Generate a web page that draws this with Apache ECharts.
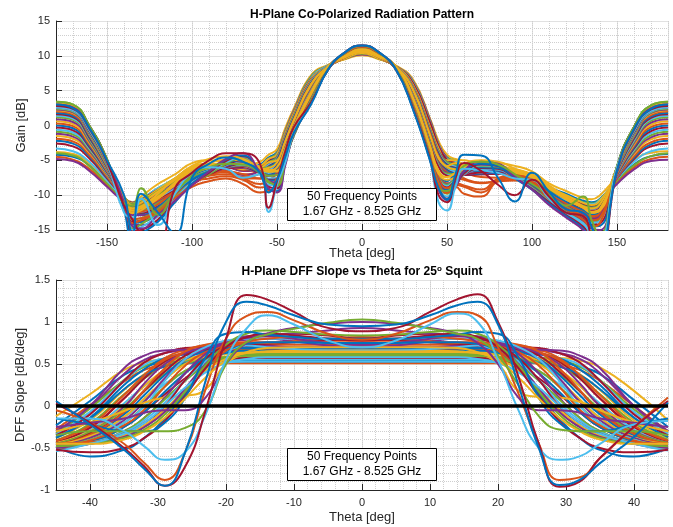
<!DOCTYPE html>
<html><head><meta charset="utf-8">
<script src="https://cdn.jsdelivr.net/npm/echarts@6.0.0/dist/echarts.min.js"></script>
<style>html,body{margin:0;padding:0;background:#fff;}#chart{width:673px;height:527px;}</style>
</head><body><div id="chart"></div>
<script>
// ---------- Top panel: H-plane gain [dB] vs theta [deg] ----------
const thetaGain = [-180,-170,-160,-150,-140, -135,-130,-120,-110,-100, -90,-80,-70,-60,-55, -50,-45,-40,-30,-20,-10,0, 10,20,30,40,45,50, 55,60,70,80,90, 100,110,120,130,135, 140,150,160,170,180];

const g00 = [-4.2,-4.5,-5.8,-8.2,-10.6, -11.2,-10.8,-9.2,-8.0,-6.4, -5.8,-5.6,-6.2,-5.6,-4.6, -3.8,-0.6,2.2,7.0,8.6,9.6,10.2, 9.6,8.5,6.4,0.8,-2.5,-4.5, -5.2,-5.6,-6.0,-6.2,-6.5, -7.2,-8.8,-9.8,-10.8,-11.0, -10.5,-7.8,-5.6,-4.4,-4.1];
const g01 = [-4.5,-4.9,-6.3,-8.6,-10.8, -11.4,-10.9,-9.6,-8.3,-6.8, -6.2,-6.4,-7.0,-6.4,-5.0, -4.0,-0.8,2.1,7.0,8.6,9.6,10.2, 9.6,8.5,6.3,0.7,-2.7,-4.8, -5.6,-6.0,-6.5,-6.6,-6.8, -7.6,-9.2,-10.2,-11.2,-11.4, -10.8,-8.1,-6.0,-4.8,-4.5];
const g02 = [-3.8,-4.1,-5.5,-8.0,-10.4, -11.0,-10.2,-8.4,-7.0,-5.4, -5.0,-5.3,-5.8,-5.2,-4.2, -3.4,-0.3,2.5,7.2,8.7,9.5,10.1, 9.5,8.6,6.6,1.0,-2.2,-4.2, -4.8,-5.0,-5.3,-5.4,-5.8, -6.6,-8.3,-9.4,-10.4,-10.6, -10.0,-7.4,-5.0,-3.9,-3.7];
const g03 = [-4.8,-5.1,-6.6,-8.8,-10.9, -11.4,-11.0,-9.8,-8.6,-7.1, -6.5,-6.6,-7.1,-6.5,-5.3, -4.0,-0.7,2.2,7.0,8.6,9.6,10.2, 9.6,8.5,6.4,0.8,-2.6,-4.7, -5.6,-6.3,-6.8,-6.9,-7.1, -7.8,-9.4,-10.4,-11.4,-11.6, -11.0,-8.4,-6.3,-5.1,-4.9];
const g04 = [-4.0,-4.3,-5.9,-8.3,-10.6, -11.2,-10.6,-9.0,-7.6,-6.0, -5.6,-5.8,-6.4,-5.9,-4.8, -4.0,-0.8,2.1,7.0,8.6,9.6,10.3, 9.6,8.5,6.3,0.6,-2.7,-4.7, -5.0,-5.7,-6.1,-6.2,-6.5, -7.2,-8.9,-10.0,-11.0,-11.2, -10.6,-7.9,-5.7,-4.4,-4.0];
const g05 = [-3.3,-3.7,-5.3,-7.9,-10.4, -11.1,-10.6,-9.0,-7.8,-6.2, -5.7,-5.8,-6.3,-5.8,-4.9, -4.2,-1.0,2.0,6.8,8.6,9.7,10.4, 9.7,8.5,6.2,0.5,-2.8,-4.8, -5.2,-5.8,-6.2,-6.3,-6.6, -7.4,-9.0,-10.1,-11.1,-11.3, -10.7,-7.7,-5.2,-3.7,-3.3];
const g06 = [-2.6,-3.0,-4.8,-7.6,-10.3, -11.1,-10.7,-9.2,-8.0,-6.5, -5.9,-5.9,-6.5,-6.0,-5.1, -4.3,-1.1,1.9,6.7,8.5,9.7,10.4, 9.7,8.5,6.1,0.4,-2.9,-4.9, -5.4,-6.0,-6.4,-6.5,-6.8, -7.6,-9.2,-10.3,-11.3,-11.5, -10.9,-7.6,-4.8,-3.0,-2.6];
const g07 = [-2.2,-2.6,-4.5,-7.4,-10.3, -11.2,-10.9,-9.5,-8.2,-6.7, -6.0,-5.9,-6.4,-6.1,-5.3, -4.4,-1.4,1.5,6.4,8.5,9.7,10.5, 9.7,8.4,5.6,-0.5,-3.6,-5.2, -5.6,-6.2,-6.6,-6.6,-6.9, -7.8,-9.4,-10.5,-11.5,-11.8, -11.2,-7.6,-4.6,-2.7,-2.2];
const g08 = [-1.9,-2.3,-4.3,-7.3,-10.4, -11.3,-11.0,-9.6,-8.4,-7.0, -6.4,-6.6,-7.4,-6.9,-5.8, -4.6,-1.5,1.4,6.3,8.5,9.7,10.5, 9.7,8.4,5.5,-0.6,-3.8,-5.4, -5.9,-6.7,-7.4,-7.5,-7.5, -8.0,-9.6,-10.7,-11.7,-12.0, -11.4,-7.6,-4.4,-2.4,-1.9];
const g09 = [-1.5,-1.9,-4.0,-7.1,-10.2, -11.2,-10.8,-9.2,-7.6,-6.0, -5.5,-5.7,-6.3,-5.8,-4.8, -4.2,-1.1,1.8,6.6,8.5,9.6,10.4, 9.6,8.5,5.8,-0.2,-3.3,-5.0, -5.0,-5.7,-6.0,-6.1,-6.4, -7.1,-8.8,-10.0,-11.1,-11.4, -10.8,-7.3,-4.1,-2.0,-1.5];
const g10 = [-1.2,-1.6,-3.8,-7.0,-10.3, -11.3,-11.0,-9.6,-8.2,-6.8, -6.2,-6.0,-6.5,-6.3,-5.5, -4.5,-1.4,1.5,6.4,8.5,9.8,10.6, 9.8,8.4,5.6,-0.5,-3.6,-5.3, -5.8,-6.4,-6.9,-6.8,-7.1, -7.9,-9.5,-10.6,-11.6,-11.9, -11.3,-7.4,-3.9,-1.7,-1.2];
const g11 = [-0.9,-1.3,-3.6,-6.9,-10.2, -11.3,-11.0,-9.4,-8.0,-6.6, -5.8,-5.6,-6.1,-6.0,-5.3, -4.6,-1.5,1.4,6.3,8.5,9.8,10.6, 9.8,8.4,5.5,-0.6,-3.7,-5.3, -5.6,-6.1,-6.4,-6.3,-6.6, -7.5,-9.2,-10.4,-11.5,-11.8, -11.2,-7.2,-3.7,-1.4,-0.9];
const g12 = [-0.6,-1.0,-3.4,-6.8,-10.3, -11.5,-11.2,-9.8,-8.5,-7.0, -6.2,-5.9,-6.4,-6.4,-5.7, -4.8,-1.7,1.2,6.2,8.5,9.8,10.7, 9.8,8.4,5.4,-0.8,-3.9,-5.5, -5.9,-6.4,-6.8,-6.7,-7.0, -7.9,-9.6,-10.8,-11.9,-12.2, -11.6,-7.2,-3.5,-1.1,-0.6];
const g13 = [-0.3,-0.7,-3.2,-6.7,-10.3, -11.5,-11.3,-9.9,-8.6,-7.2, -6.4,-6.0,-6.4,-6.5,-5.9, -4.9,-1.8,1.1,6.1,8.4,9.8,10.7, 9.8,8.4,5.3,-0.9,-4.0,-5.6, -6.1,-6.6,-7.0,-6.9,-7.2, -8.1,-9.8,-11.0,-12.0,-12.3, -11.7,-7.1,-3.3,-0.8,-0.3];
const g14 = [0.0,-0.4,-3.0,-6.6,-10.4, -11.7,-11.5,-10.1,-8.7,-7.2, -6.3,-5.8,-6.2,-6.4,-6.0, -5.0,-2.0,1.0,6.0,8.4,9.9,10.8, 9.9,8.3,5.2,-1.0,-4.2,-5.7, -6.2,-6.6,-6.9,-6.8,-7.1, -8.0,-9.8,-11.1,-12.2,-12.5, -11.9,-7.0,-3.1,-0.5,0.0];
const g15 = [0.3,-0.1,-2.8,-6.5,-10.3, -11.6,-11.4,-10.2,-9.0,-7.6, -6.9,-6.7,-7.6,-7.6,-6.8, -5.3,-2.2,0.9,5.9,8.4,9.8,10.7, 9.8,8.3,5.1,-1.1,-4.4,-6.0, -6.8,-7.6,-8.2,-8.0,-7.8, -8.3,-10.0,-11.2,-12.2,-12.6, -12.0,-7.0,-2.9,-0.2,0.3];
const g16 = [0.6,0.2,-2.6,-6.4,-10.2, -11.5,-11.1,-9.5,-7.8,-6.2, -5.6,-5.7,-6.3,-6.1,-5.3, -5.0,-2.2,0.8,5.9,8.4,9.8,10.5, 9.8,8.4,5.2,-1.4,-4.6,-5.8, -5.4,-5.8,-6.0,-6.0,-6.3, -7.2,-9.0,-10.4,-11.6,-11.9, -11.3,-6.8,-2.7,0.1,0.6];
const g17 = [0.9,0.5,-2.4,-6.3,-10.4, -11.8,-11.6,-10.3,-8.9,-7.4, -6.5,-6.0,-6.1,-6.5,-6.2, -5.5,-2.6,0.4,5.6,8.4,10.0,10.8, 10.0,8.3,4.8,-1.8,-5.0,-6.2, -6.4,-6.7,-6.8,-6.7,-7.0, -8.0,-9.9,-11.3,-12.4,-12.7, -12.1,-6.8,-2.5,0.4,0.9];
const g18 = [1.2,0.8,-2.2,-6.2,-10.3, -11.8,-11.5,-10.0,-8.5,-7.0, -6.0,-5.6,-5.8,-6.2,-6.0, -5.4,-2.5,0.5,5.7,8.4,10.0,10.8, 10.0,8.3,4.9,-1.7,-4.9,-6.1, -6.3,-6.5,-6.5,-6.4,-6.8, -7.8,-9.7,-11.1,-12.3,-12.6, -12.0,-6.7,-2.3,0.7,1.2];
const g19 = [1.4,1.0,-2.0,-6.1,-10.4, -12.0,-11.8,-10.5,-9.1,-7.5, -6.5,-5.9,-6.0,-6.6,-6.4, -5.6,-2.7,0.3,5.5,8.4,10.0,10.9, 10.0,8.3,4.7,-1.9,-5.1,-6.3, -6.6,-6.8,-6.8,-6.7,-7.1, -8.1,-10.1,-11.5,-12.6,-12.9, -12.3,-6.7,-2.1,0.9,1.4];
const g20 = [1.6,1.2,-1.9,-6.0,-10.5, -12.1,-11.9,-10.7,-9.3,-7.8, -6.8,-6.1,-6.0,-6.7,-6.6, -5.7,-2.8,0.2,5.4,8.3,10.1,10.9, 10.1,8.2,4.6,-2.0,-5.2,-6.4, -6.9,-7.1,-7.0,-6.9,-7.3, -8.3,-10.3,-11.7,-12.8,-13.1, -12.5,-6.6,-1.9,1.1,1.6];
const g21 = [1.8,1.4,-1.7,-5.9,-10.5, -12.2,-12.1,-10.9,-9.5,-7.9, -6.8,-6.0,-5.8,-6.6,-6.6, -5.8,-2.9,0.1,5.3,8.3,10.1,11.0, 10.1,8.2,4.5,-2.1,-5.3,-6.5, -6.9,-7.0,-6.9,-6.8,-7.3, -8.4,-10.4,-11.9,-13.0,-13.3, -12.7,-6.5,-1.7,1.3,1.8];
const g22 = [2.0,1.6,-1.5,-5.8,-10.4, -12.0,-11.9,-10.8,-9.5,-8.0, -7.1,-6.6,-7.0,-7.6,-7.2, -6.0,-3.0,0.0,5.2,8.3,10.0,10.9, 10.0,8.2,4.5,-2.2,-5.4,-6.7, -7.3,-7.8,-8.3,-8.0,-7.9, -8.6,-10.5,-11.9,-13.0,-13.3, -12.7,-6.4,-1.5,1.5,2.0];
const g23 = [2.2,1.8,-1.4,-5.7,-10.3, -11.9,-11.6,-10.2,-8.6,-7.0, -6.1,-5.6,-5.8,-6.3,-6.1, -5.3,-2.3,0.7,5.8,8.4,9.9,10.7, 9.9,8.4,5.0,-1.5,-4.7,-5.9, -6.3,-6.4,-6.4,-6.3,-6.7, -7.7,-9.7,-11.2,-12.4,-12.7, -12.1,-6.3,-1.4,1.7,2.2];
const g24 = [2.3,1.9,-1.3,-5.6,-10.5, -12.3,-12.2,-11.0,-9.6,-8.0, -6.9,-6.1,-5.8,-6.6,-6.7, -6.0,-3.1,-0.1,5.1,8.3,10.1,11.0, 10.1,8.2,4.4,-2.3,-5.5,-6.8, -7.0,-7.0,-6.8,-6.7,-7.3, -8.5,-10.6,-12.1,-13.2,-13.5, -12.9,-6.3,-1.3,1.8,2.3];
const g25 = [2.4,2.0,-1.2,-5.6,-10.6, -12.4,-12.3,-11.1,-9.7,-8.0, -6.9,-6.0,-5.7,-6.5,-6.7, -6.1,-3.2,-0.2,5.0,8.3,10.1,11.0, 10.1,8.1,4.3,-2.4,-5.6,-6.9, -7.0,-6.9,-6.7,-6.6,-7.2, -8.5,-10.7,-12.2,-13.3,-13.6, -13.0,-6.2,-1.2,1.9,2.4];
const g26 = [2.5,2.1,-1.1,-5.5,-10.7, -12.6,-12.5,-11.4,-10.0,-8.3, -7.0,-6.0,-5.6,-6.6,-6.9, -6.3,-3.4,-0.3,4.9,8.2,10.2,11.1, 10.2,8.1,4.2,-2.6,-5.8,-7.1, -7.2,-7.0,-6.7,-6.6,-7.3, -8.7,-10.9,-12.4,-13.5,-13.8, -13.2,-6.2,-1.1,2.0,2.5];
const g27 = [2.6,2.2,-1.0,-5.4,-10.8, -12.8,-12.7,-11.6,-10.2,-8.5, -7.1,-6.0,-5.5,-6.7,-7.1, -6.4,-3.5,-0.4,4.8,8.2,10.2,11.1, 10.2,8.1,4.1,-2.7,-5.9,-7.2, -7.4,-7.1,-6.7,-6.6,-7.4, -8.9,-11.1,-12.6,-13.7,-14.0, -13.4,-6.1,-1.0,2.1,2.6];
const g28 = [2.7,2.3,-0.9,-5.4,-10.8, -12.8,-12.8,-11.7,-9.5,-7.6, -6.6,-5.8,-5.4,-6.7,-7.1, -6.5,-3.8,-0.6,4.5,8.4,10.2,11.1, 10.2,8.3,3.7,-3.3,-7.0,-8.0, -7.0,-6.5,-6.5,-6.5,-7.3, -8.0,-9.5,-11.0,-12.2,-12.8, -12.5,-6.1,-0.9,2.2,2.7];
const g29 = [2.8,2.4,-0.8,-5.3,-10.6, -12.5,-12.4,-11.3,-9.4,-7.9, -7.2,-7.0,-7.6,-8.4,-7.9, -6.8,-4.0,-0.7,4.4,8.4,10.2,11.1, 10.2,8.3,3.6,-3.4,-7.1,-8.3, -8.3,-8.6,-9.2,-7.6,-7.0, -7.8,-9.8,-11.2,-12.4,-13.0, -12.6,-6.1,-0.8,2.3,2.8];
const g30 = [2.9,2.5,-0.7,-5.3,-10.4, -12.2,-11.9,-10.5,-8.4,-6.6, -5.8,-5.3,-5.4,-6.3,-6.4, -6.0,-3.3,-0.2,4.8,8.5,10.0,10.9, 10.0,8.4,4.0,-2.9,-6.5,-7.4, -6.8,-6.4,-6.1,-6.1,-6.8, -7.4,-9.0,-10.6,-11.8,-12.4, -12.0,-6.0,-0.7,2.4,2.9];
const g31 = [3.0,2.6,-0.6,-5.2,-10.7, -12.8,-12.9,-11.9,-9.8,-7.7, -6.8,-5.8,-5.2,-6.6,-7.2, -7.0,-4.0,-0.8,4.3,8.3,10.2,11.2, 10.2,8.3,3.6,-3.5,-7.2,-8.4, -7.6,-7.0,-6.3,-6.4,-7.4, -8.3,-10.0,-11.5,-12.8,-13.4, -13.0,-6.0,-0.6,2.5,3.0];
const g32 = [3.1,2.7,-0.5,-5.2,-11.0, -13.5,-13.3,-12.0,-9.7,-7.5, -6.6,-5.6,-5.1,-6.5,-7.2, -7.1,-4.1,-0.9,4.2,8.3,10.2,11.2, 10.2,8.3,3.5,-3.6,-7.3,-8.5, -7.6,-6.9,-6.2,-6.3,-7.4, -8.4,-10.1,-11.6,-13.0,-13.7, -13.4,-6.0,-0.5,2.6,3.1];
const g33 = [3.1,2.7,-0.5,-5.1,-11.2, -13.8,-13.6,-12.3,-10.0,-7.8, -6.8,-5.7,-5.1,-6.8,-7.6, -7.5,-4.3,-1.0,4.1,8.3,10.3,11.3, 10.3,8.3,3.4,-3.7,-7.5,-8.7, -7.8,-7.0,-6.2,-6.3,-7.5, -8.6,-10.3,-11.8,-13.2,-14.0, -13.7,-6.0,-0.5,2.6,3.1];
const g34 = [3.2,2.8,-0.4,-5.1,-11.2, -13.8,-13.7,-12.4,-10.1,-7.9, -6.8,-5.6,-5.0,-6.9,-7.8, -7.7,-4.4,-1.1,4.0,8.2,10.3,11.3, 10.3,8.2,3.3,-3.8,-7.6,-8.9, -7.9,-7.0,-6.1,-6.2,-7.5, -8.7,-10.4,-12.0,-13.4,-14.3, -14.1,-6.0,-0.4,2.7,3.2];
const g35 = [3.2,2.8,-0.4,-5.0,-11.3, -14.0,-13.9,-12.5,-10.1,-7.8, -6.6,-5.4,-4.9,-6.9,-7.9, -7.9,-4.5,-1.2,3.9,8.2,10.3,11.4, 10.3,8.2,3.2,-3.9,-7.8,-9.2, -8.0,-6.9,-6.0,-6.1,-7.4, -8.6,-10.3,-12.0,-13.5,-14.5, -14.4,-6.0,-0.4,2.7,3.2];
const g36 = [3.3,2.9,-0.3,-5.0,-11.0, -13.4,-13.3,-12.2,-10.1,-8.2, -7.6,-7.3,-7.8,-8.9,-8.7, -7.6,-4.4,-1.0,4.1,8.3,10.3,11.3, 10.3,8.3,3.4,-3.7,-7.5,-9.0, -8.5,-8.8,-9.6,-7.8,-7.2, -8.0,-10.2,-11.8,-13.0,-13.6, -13.2,-6.0,-0.3,2.8,3.3];
const g37 = [3.3,2.9,-0.3,-5.0,-10.6, -12.6,-12.2,-10.4,-8.2,-6.3, -5.4,-4.9,-5.0,-6.2,-6.6, -6.5,-3.6,-0.4,4.6,8.4,10.0,10.9, 10.0,8.4,3.9,-3.1,-6.8,-7.8, -7.4,-6.1,-5.6,-5.7,-6.5, -7.2,-8.8,-10.4,-11.8,-12.5, -12.2,-6.0,-0.3,2.8,3.3];
const g38 = [3.3,2.9,-0.3,-4.9,-11.3, -14.2,-14.3,-13.0,-10.6,-8.2, -6.9,-5.4,-4.6,-6.6,-7.9, -8.2,-4.8,-1.3,3.8,8.2,10.3,11.4, 10.3,8.2,3.1,-4.0,-8.0,-9.5, -8.2,-6.9,-5.8,-5.9,-7.3, -8.8,-10.6,-12.2,-13.7,-14.8, -15.0,-6.0,-0.3,2.8,3.3];
const g39 = [3.4,3.0,-0.2,-4.9,-11.5, -14.8,-14.2,-12.4,-10.3,-8.2, -7.0,-5.5,-4.6,-6.7,-8.2, -8.6,-5.0,-1.4,3.7,8.2,10.3,11.4, 10.3,8.2,3.0,-4.1,-8.2,-9.8, -8.5,-7.0,-5.8,-5.9,-7.4, -8.9,-10.7,-12.4,-14.0,-15.2, -15.5,-6.0,-0.2,2.9,3.4];
const g40 = [3.3,2.9,-0.2,-4.9,-11.6, -15.0,-14.6,-13.0,-10.5,-8.2, -6.8,-5.3,-4.5,-6.8,-8.5, -8.6,-4.8,-1.0,3.5,8.1,10.3,11.4, 10.3,8.1,2.8,-4.4,-8.6,-10.2, -8.7,-7.0,-5.7,-5.8,-7.4, -9.0,-10.9,-12.6,-14.2,-15.6, -16.0,-6.0,-0.2,2.8,3.3];
const g41 = [3.2,2.8,-0.2,-4.9,-11.7, -15.2,-15.0,-13.5,-10.9,-8.4, -6.8,-5.1,-4.4,-6.9,-8.8, -9.0,-5.0,-1.1,3.4,8.1,10.3,11.4, 10.3,8.1,2.7,-4.6,-8.8,-10.5, -8.8,-6.9,-5.6,-5.8,-7.5, -9.1,-11.0,-12.8,-14.5,-16.0, -16.5,-6.0,-0.2,2.7,3.2];
const g42 = [3.1,2.7,-0.3,-5.0,-12.0, -16.0,-15.5,-13.8,-11.0,-8.4, -6.6,-4.9,-4.3,-7.0,-9.2, -9.4,-5.3,-1.2,3.3,8.0,10.4,11.4, 10.4,8.0,2.6,-4.7,-9.0,-10.7, -8.7,-6.6,-5.5,-5.8,-7.6, -9.2,-11.2,-13.0,-14.8,-16.5, -17.0,-6.0,-0.3,2.6,3.1];
const g43 = [3.0,2.6,-0.4,-5.0,-11.4, -14.0,-13.6,-12.4,-10.4,-8.8, -8.0,-7.6,-8.4,-9.6,-9.4, -8.6,-5.0,-1.0,3.4,8.1,10.3,11.3, 10.3,8.1,2.8,-4.4,-8.4,-9.7, -8.8,-9.8,-10.2,-8.0,-7.6, -8.2,-10.5,-12.0,-13.5,-14.5, -14.0,-6.0,-0.4,2.5,3.0];
const g44 = [3.2,2.8,-0.3,-5.0,-10.6, -12.5,-11.8,-9.8,-7.6,-5.8, -4.8,-4.4,-4.8,-6.0,-6.6, -6.6,-3.7,-0.5,4.5,8.4,10.0,10.9, 10.0,8.4,3.8,-3.2,-6.9,-7.4, -6.8,-5.6,-5.0,-5.2,-6.2, -7.0,-8.6,-10.2,-11.6,-12.4, -12.0,-6.0,-0.3,2.7,3.2];
const g45 = [3.0,2.6,-0.4,-5.0,-11.0, -14.5,-14.8,-12.8,-10.8,-8.6, -6.6,-4.8,-4.0,-6.8,-9.0, -9.6,-5.6,-1.2,3.2,8.0,10.5,11.5, 10.5,8.0,2.5,-4.9,-9.2,-10.6, -8.8,-6.5,-5.2,-5.5,-7.4, -9.2,-11.4,-13.2,-15.0,-17.0, -17.0,-6.0,-0.4,2.5,3.0];
const g46 = [3.4,3.0,-0.2,-4.8,-11.2, -11.5,-9.0,-12.8,-9.6,-7.2, -6.0,-5.5,-5.6,-6.8,-8.0, -8.6,-5.0,-1.1,3.4,8.1,10.4,11.4, 10.4,8.1,2.6,-4.7,-9.0,-9.4, -7.6,-5.8,-5.2,-5.6,-7.0, -8.4,-10.0,-11.5,-10.2,-13.5, -16.0,-5.8,-0.2,2.9,3.4];
const g47 = [2.6,2.2,-0.8,-5.3,-12.5, -13.2,-10.5,-14.3,-9.8,-6.8, -6.0,-6.2,-7.5,-7.0,-12.4, -8.5,-5.2,-1.0,3.2,8.0,10.5,11.5, 10.5,8.0,2.4,-5.0,-11.0,-12.2, -8.8,-6.2,-6.4,-6.8,-7.6, -7.8,-10.5,-12.5,-14.0,-15.5, -16.0,-6.0,-0.8,2.1,2.6];
const g48 = [2.8,2.4,-0.6,-5.2,-11.5, -13.5,-15.5,-17.0,-9.0,-6.8, -5.0,-4.0,-4.0,-5.5,-11.8, -8.0,-3.6,-0.2,3.3,8.0,10.5,11.5, 10.5,8.0,2.5,-4.8,-10.0,-11.0, -7.5,-5.4,-6.5,-8.5,-10.0, -7.8,-10.2,-12.5,-13.0,-16.0, -19.0,-6.5,-0.6,2.3,2.8];
const g49 = [3.0,2.5,-0.5,-5.0,-10.0, -15.5,-9.8,-12.5,-15.5,-7.5, -5.5,-4.6,-5.2,-6.8,-9.6, -7.8,-4.4,-1.0,3.0,8.0,10.5,11.5, 10.5,8.0,2.3,-5.0,-9.0,-10.6, -7.0,-4.2,-4.3,-7.5,-10.9, -6.8,-9.5,-12.0,-12.5,-14.5, -18.0,-6.5,-0.5,2.4,3.0];

// ---------- Bottom panel: DFF slope [dB/deg] vs theta [deg] ----------
const thetaDff = [-45,-40,-35,-32,-29, -26,-23,-20,-17,-14, -10,-5,0,5,10, 14,17,20,23,26, 29,32,35,40,45];

const d00 = [-0.23,0.06,0.37,0.47,0.52, 0.54,0.54,0.54,0.54,0.54, 0.54,0.54,0.54,0.54,0.54, 0.54,0.54,0.54,0.54,0.54, 0.52,0.47,0.38,0.07,-0.25];
const d01 = [-0.28,0.01,0.29,0.43,0.49, 0.51,0.51,0.51,0.51,0.51, 0.51,0.51,0.51,0.51,0.51, 0.51,0.51,0.51,0.51,0.51, 0.49,0.43,0.30,0.00,-0.30];
const d02 = [-0.12,0.14,0.43,0.52,0.56, 0.57,0.57,0.57,0.57,0.57, 0.57,0.57,0.57,0.57,0.57, 0.57,0.57,0.57,0.57,0.57, 0.57,0.54,0.46,0.18,-0.17];
const d03 = [-0.32,-0.02,0.38,0.55,0.63, 0.66,0.66,0.66,0.66,0.66, 0.66,0.66,0.66,0.66,0.66, 0.66,0.66,0.66,0.66,0.66, 0.63,0.56,0.39,0.00,-0.30];
const d04 = [-0.33,-0.03,0.31,0.47,0.54, 0.57,0.57,0.57,0.57,0.57, 0.57,0.57,0.57,0.57,0.57, 0.57,0.57,0.57,0.57,0.57, 0.54,0.47,0.31,-0.04,-0.31];
const d05 = [-0.34,-0.07,0.30,0.49,0.57, 0.61,0.62,0.62,0.62,0.62, 0.62,0.62,0.62,0.62,0.62, 0.62,0.62,0.62,0.62,0.61, 0.57,0.49,0.30,-0.07,-0.33];
const d06 = [-0.35,-0.10,0.30,0.52,0.63, 0.69,0.70,0.70,0.70,0.70, 0.70,0.70,0.70,0.70,0.70, 0.70,0.70,0.70,0.70,0.69, 0.63,0.52,0.30,-0.10,-0.35];
const d07 = [-0.37,-0.14,0.25,0.44,0.57, 0.62,0.64,0.64,0.64,0.64, 0.64,0.64,0.64,0.64,0.64, 0.64,0.64,0.64,0.64,0.62, 0.57,0.44,0.25,-0.14,-0.37];
const d08 = [-0.44,-0.25,0.09,0.36,0.57, 0.67,0.72,0.73,0.73,0.73, 0.73,0.73,0.73,0.73,0.73, 0.73,0.73,0.73,0.72,0.67, 0.57,0.36,0.09,-0.25,-0.42];
const d09 = [-0.38,-0.17,0.19,0.38,0.51, 0.57,0.59,0.59,0.59,0.59, 0.59,0.59,0.59,0.59,0.59, 0.59,0.59,0.59,0.59,0.57, 0.51,0.38,0.19,-0.17,-0.38];
const d10 = [-0.30,0.00,0.45,0.60,0.66, 0.67,0.67,0.67,0.67,0.67, 0.67,0.67,0.67,0.67,0.67, 0.67,0.67,0.67,0.67,0.67, 0.66,0.60,0.45,0.00,-0.30];
const d11 = [-0.41,-0.21,0.14,0.33,0.48, 0.54,0.56,0.56,0.56,0.56, 0.56,0.56,0.56,0.56,0.56, 0.56,0.56,0.56,0.56,0.54, 0.48,0.33,0.14,-0.20,-0.40];
const d12 = [-0.45,-0.29,0.03,0.24,0.41, 0.50,0.54,0.55,0.55,0.55, 0.55,0.55,0.55,0.55,0.55, 0.55,0.55,0.55,0.54,0.50, 0.41,0.24,0.03,-0.28,-0.43];
const d13 = [-0.43,-0.26,0.09,0.33,0.53, 0.63,0.67,0.69,0.70,0.70, 0.68,0.65,0.64,0.65,0.68, 0.70,0.70,0.69,0.67,0.63, 0.53,0.33,0.09,-0.25,-0.42];
const d14 = [-0.38,-0.15,0.20,0.37,0.47, 0.51,0.53,0.53,0.53,0.53, 0.53,0.53,0.53,0.53,0.53, 0.53,0.53,0.53,0.53,0.51, 0.47,0.37,0.20,-0.14,-0.37];
const d15 = [-0.41,-0.23,0.13,0.37,0.55, 0.64,0.68,0.68,0.68,0.68, 0.68,0.68,0.68,0.68,0.68, 0.68,0.68,0.68,0.68,0.64, 0.55,0.37,0.13,-0.23,-0.41];
const d16 = [-0.44,-0.30,0.00,0.24,0.43, 0.55,0.60,0.62,0.62,0.62, 0.62,0.62,0.62,0.62,0.62, 0.62,0.62,0.62,0.60,0.55, 0.43,0.24,0.00,-0.30,-0.44];
const d17 = [-0.45,-0.31,-0.01,0.27,0.50, 0.63,0.70,0.73,0.73,0.72, 0.70,0.70,0.71,0.70,0.70, 0.72,0.73,0.73,0.70,0.63, 0.50,0.27,0.00,-0.30,-0.44];
const d18 = [-0.45,-0.31,-0.04,0.18,0.38, 0.50,0.56,0.58,0.58,0.58, 0.58,0.58,0.58,0.58,0.58, 0.58,0.58,0.58,0.56,0.50, 0.38,0.18,-0.04,-0.31,-0.44];
const d19 = [-0.48,-0.37,-0.14,0.07,0.26, 0.41,0.49,0.52,0.53,0.53, 0.53,0.53,0.53,0.53,0.53, 0.53,0.53,0.52,0.49,0.41, 0.26,0.07,-0.14,-0.37,-0.46];
const d20 = [-0.47,-0.33,-0.07,0.18,0.41, 0.60,0.67,0.70,0.72,0.74, 0.76,0.78,0.79,0.78,0.76, 0.74,0.72,0.70,0.67,0.60, 0.41,0.18,-0.07,-0.33,-0.46];
const d21 = [-0.47,-0.35,-0.10,0.13,0.37, 0.56,0.65,0.69,0.69,0.69, 0.69,0.69,0.69,0.69,0.69, 0.69,0.69,0.69,0.65,0.56, 0.37,0.13,-0.10,-0.35,-0.46];
const d22 = [-0.46,-0.34,-0.07,0.19,0.45, 0.65,0.73,0.76,0.76,0.76, 0.76,0.76,0.76,0.76,0.76, 0.76,0.76,0.76,0.73,0.65, 0.45,0.19,-0.07,-0.33,-0.45];
const d23 = [-0.46,-0.36,-0.13,0.09,0.31, 0.50,0.59,0.63,0.64,0.64, 0.64,0.64,0.64,0.64,0.64, 0.64,0.64,0.63,0.59,0.50, 0.31,0.08,-0.14,-0.37,-0.45];
const d24 = [-0.47,-0.38,-0.17,0.05,0.33, 0.56,0.68,0.76,0.79,0.80, 0.77,0.72,0.70,0.72,0.77, 0.80,0.79,0.76,0.68,0.56, 0.33,0.05,-0.17,-0.38,-0.46];
const d25 = [-0.46,-0.40,-0.20,0.00,0.23, 0.42,0.52,0.58,0.60,0.60, 0.60,0.60,0.60,0.60,0.60, 0.60,0.60,0.58,0.52,0.42, 0.23,0.00,-0.20,-0.40,-0.46];
const d26 = [-0.47,-0.41,-0.20,0.00,0.30, 0.56,0.70,0.78,0.80,0.80, 0.80,0.80,0.80,0.80,0.80, 0.80,0.80,0.78,0.70,0.56, 0.30,0.00,-0.20,-0.40,-0.47];
const d27 = [-0.52,-0.43,-0.25,-0.07,0.14, 0.33,0.48,0.55,0.57,0.57, 0.57,0.57,0.57,0.57,0.57, 0.57,0.57,0.55,0.48,0.33, 0.14,-0.07,-0.25,-0.42,-0.50];
const d28 = [-0.50,-0.43,-0.25,-0.07,0.17, 0.39,0.57,0.63,0.66,0.66, 0.66,0.66,0.66,0.66,0.66, 0.66,0.66,0.63,0.57,0.39, 0.17,-0.07,-0.25,-0.42,-0.49];
const d29 = [-0.49,-0.41,-0.23,-0.04,0.23, 0.48,0.64,0.71,0.75,0.75, 0.77,0.80,0.82,0.80,0.77, 0.75,0.75,0.71,0.64,0.48, 0.23,-0.04,-0.23,-0.41,-0.48];
const d30 = [-0.30,-0.20,-0.06,0.04,0.10, 0.12,0.20,0.50,0.62,0.65, 0.66,0.66,0.66,0.66,0.66, 0.65,0.62,0.50,0.18,0.11, 0.10,0.05,-0.05,-0.20,-0.30];
const d31 = [-0.48,-0.44,-0.30,-0.14,0.10, 0.39,0.62,0.75,0.81,0.83, 0.80,0.75,0.73,0.75,0.80, 0.83,0.81,0.75,0.62,0.39, 0.10,-0.14,-0.30,-0.44,-0.48];
const d32 = [-0.50,-0.44,-0.30,-0.14,0.08, 0.30,0.48,0.57,0.61,0.62, 0.62,0.62,0.62,0.62,0.62, 0.62,0.61,0.57,0.48,0.30, 0.08,-0.14,-0.30,-0.44,-0.50];
const d33 = [-0.50,-0.44,-0.31,-0.17,0.04, 0.31,0.53,0.65,0.72,0.70, 0.68,0.66,0.66,0.66,0.68, 0.70,0.72,0.65,0.53,0.31, 0.04,-0.17,-0.31,-0.44,-0.50];
const d34 = [-0.52,-0.45,-0.33,-0.20,0.00, 0.31,0.57,0.72,0.82,0.84, 0.86,0.84,0.80,0.84,0.86, 0.84,0.82,0.72,0.57,0.31, 0.00,-0.20,-0.33,-0.45,-0.52];
const d35 = [-0.48,-0.60,-0.52,-0.38,-0.15, 0.15,0.45,0.65,0.74,0.76, 0.76,0.75,0.75,0.75,0.76, 0.76,0.74,0.65,0.45,0.15, -0.15,-0.38,-0.52,-0.60,-0.50];
const d36 = [-0.45,-0.43,-0.37,-0.25,-0.07, 0.20,0.46,0.66,0.76,0.80, 0.82,0.80,0.78,0.80,0.82, 0.80,0.76,0.66,0.46,0.20, -0.07,-0.25,-0.37,-0.43,-0.45];
const d37 = [-0.50,-0.45,-0.35,-0.23,-0.04, 0.20,0.42,0.56,0.63,0.65, 0.65,0.65,0.65,0.65,0.65, 0.65,0.63,0.56,0.42,0.20, -0.04,-0.23,-0.35,-0.45,-0.50];
const d38 = [-0.50,-0.45,-0.37,-0.25,-0.07, 0.21,0.50,0.72,0.83,0.84, 0.86,0.90,0.93,0.90,0.86, 0.84,0.83,0.72,0.50,0.21, -0.07,-0.25,-0.37,-0.45,-0.50];
const d39 = [-0.48,-0.45,-0.38,-0.28,-0.10, 0.17,0.49,0.73,0.86,0.90, 0.88,0.85,0.84,0.85,0.88, 0.90,0.86,0.73,0.49,0.17, -0.10,-0.28,-0.38,-0.45,-0.48];
const d40 = [-0.54,-0.45,-0.33,-0.20,0.00, 0.22,0.40,0.51,0.56,0.58, 0.58,0.58,0.58,0.58,0.58, 0.58,0.56,0.51,0.40,0.22, 0.00,-0.20,-0.33,-0.45,-0.53];
const d41 = [-0.52,-0.55,-0.50,-0.38,-0.18, 0.12,0.45,0.70,0.82,0.86, 0.84,0.80,0.78,0.80,0.84, 0.86,0.82,0.70,0.45,0.12, -0.18,-0.38,-0.50,-0.55,-0.52];
const d42 = [-0.15,-0.22,-0.30,-0.30,-0.20, 0.10,0.58,0.86,0.88,0.85, 0.82,0.80,0.80,0.80,0.82, 0.85,0.88,0.86,0.58,0.10, -0.20,-0.30,-0.30,-0.22,-0.15];
const d43 = [-0.05,-0.20,-0.45,-0.68,-0.88, -0.55,0.20,0.80,1.07,1.12, 1.02,0.86,0.79,0.86,1.02, 1.12,1.08,0.70,0.15,-0.45, -0.88,-0.85,-0.62,-0.25,0.10];
const d44 = [-0.45,-0.45,-0.40,-0.30,-0.14, 0.09,0.34,0.54,0.64,0.69, 0.70,0.70,0.70,0.70,0.70, 0.69,0.64,0.54,0.34,0.09, -0.14,-0.30,-0.40,-0.45,-0.45];
const d45 = [-0.25,-0.20,-0.15,-0.08,-0.05, -0.05,0.10,0.50,0.75,0.86, 0.93,0.98,1.00,0.98,0.93, 0.86,0.75,0.50,0.10,-0.05, -0.05,-0.08,-0.15,-0.20,-0.25];
const d46 = [-0.35,-0.30,-0.30,-0.30,-0.30, -0.26,-0.05,0.50,0.76,0.85, 0.92,0.99,1.03,0.99,0.92, 0.86,0.80,0.60,0.25,-0.12, -0.28,-0.30,-0.30,-0.30,-0.35];
const d47 = [-0.15,-0.15,-0.30,-0.48,-0.64, -0.55,-0.10,0.55,0.92,1.08, 0.97,0.78,0.70,0.78,0.97, 1.10,1.00,0.55,-0.05,-0.50, -0.64,-0.60,-0.45,-0.22,-0.18];
const d48 = [0.03,-0.20,-0.50,-0.72,-0.95, -0.72,-0.05,0.80,1.32,1.27, 1.12,0.93,0.89,0.93,1.12, 1.27,1.33,1.00,0.35,-0.45, -0.96,-0.90,-0.62,-0.25,0.06];
const d49 = [0.06,-0.22,-0.52,-0.75,-0.95, -0.55,0.30,1.00,1.24,1.20, 1.08,0.97,0.95,0.97,1.08, 1.20,1.24,0.97,0.25,-0.50, -0.94,-0.88,-0.68,-0.37,0.04];

// ---------- Axis limits, labels, colours ----------
const gainXRange = [-180, 180];
const gainYRange = [-15, 15];
const dffXRange = [-45, 45];
const dffYRange = [-1, 1.5];
const dffZero = 0;
const lineColors = ['#0072BD','#D95319','#EDB120','#7E2F8E','#77AC30','#4DBEEE','#A2142F'];
const noteLines = ['50 Frequency Points', '1.67 GHz - 8.525 GHz'];

const gainCurves = [g00,g01,g02,g03,g04,g05,g06,g07,g08,g09,g10,g11,g12,g13,g14,g15,g16,g17,g18,g19,g20,g21,g22,g23,g24,g25,g26,g27,g28,g29,g30,g31,g32,g33,g34,g35,g36,g37,g38,g39,g40,g41,g42,g43,g44,g45,g46,g47,g48,g49];
const dffCurves = [d00,d01,d02,d03,d04,d05,d06,d07,d08,d09,d10,d11,d12,d13,d14,d15,d16,d17,d18,d19,d20,d21,d22,d23,d24,d25,d26,d27,d28,d29,d30,d31,d32,d33,d34,d35,d36,d37,d38,d39,d40,d41,d42,d43,d44,d45,d46,d47,d48,d49];

const FONT = "'Liberation Sans', Arial, Helvetica, sans-serif";
const AX = '#262626';
const MAJOR = '#e1e1e1';
const MINOR = '#cfcfcf';

function mainX(gridIndex, range, splitNumber, name, nameGap) {
  return {
    type: 'value', gridIndex, min: range[0], max: range[1], splitNumber,
    axisLine: { show: true, onZero: false, lineStyle: { color: AX, width: 1 } },
    axisTick: { show: true, inside: true, length: 6, lineStyle: { color: AX } },
    axisLabel: { color: AX, fontSize: 11, fontFamily: FONT, margin: 7, showMinLabel: false, showMaxLabel: false },
    splitLine: { show: true, lineStyle: { color: MAJOR, width: 1 } },
    name, nameLocation: 'middle', nameGap, nameMoveOverlap: false,
    nameTextStyle: { color: AX, fontSize: 13, fontFamily: FONT }
  };
}
function helperX(gridIndex, range, splitNumber) {
  return {
    type: 'value', gridIndex, min: range[0], max: range[1], splitNumber, position: 'bottom',
    axisLine: { show: false }, axisTick: { show: false }, axisLabel: { show: false },
    splitLine: { show: true, lineStyle: { color: MINOR, type: 'dotted', width: 1 } }
  };
}
function mainY(gridIndex, range, interval, name, nameGap) {
  return {
    type: 'value', gridIndex, min: range[0], max: range[1], interval,
    axisLine: { show: true, onZero: false, lineStyle: { color: AX, width: 1 } },
    axisTick: { show: true, inside: true, length: 6, lineStyle: { color: AX } },
    axisLabel: { color: AX, fontSize: 11, fontFamily: FONT, margin: 6 },
    splitLine: { show: true, lineStyle: { color: MAJOR, width: 1 } },
    minorTick: { show: false, splitNumber: 5 },
    minorSplitLine: { show: true, lineStyle: { color: MINOR, type: 'dotted', width: 1 } },
    name, nameLocation: 'middle', nameGap, nameMoveOverlap: false,
    nameTextStyle: { color: AX, fontSize: 13, fontFamily: FONT }
  };
}

const series = [];
gainCurves.forEach((c, i) => {
  series.push({
    type: 'line', xAxisIndex: 0, yAxisIndex: 0, silent: true,
    data: thetaGain.map((t, j) => [t, c[j]]),
    smooth: 0.5, symbol: 'none', showSymbol: false,
    lineStyle: { width: 2, color: lineColors[i % 7] }, itemStyle: { color: lineColors[i % 7] }
  });
});
dffCurves.forEach((c, i) => {
  series.push({
    type: 'line', xAxisIndex: 1, yAxisIndex: 1, silent: true,
    data: thetaDff.map((t, j) => [t, c[j]]),
    smooth: 0.5, symbol: 'none', showSymbol: false,
    lineStyle: { width: 2, color: lineColors[i % 7] }, itemStyle: { color: lineColors[i % 7] }
  });
});
series.push({
  type: 'line', xAxisIndex: 1, yAxisIndex: 1, silent: true,
  data: dffXRange.map(x => [x, dffZero]), symbol: 'none', showSymbol: false,
  lineStyle: { width: 3.5, color: '#000' }, itemStyle: { color: '#000' }
});

function noteBox(top) {
  return [
    { type: 'rect', z: 100, shape: { x: 287.5, y: top + 0.5, width: 149, height: 32 },
      style: { fill: '#ffffff', stroke: '#000000', lineWidth: 1 } },
    { type: 'text', z: 101, x: 362, y: top + 9,
      style: { text: noteLines[0], fill: '#000', font: '12px ' + FONT, align: 'center', verticalAlign: 'middle' } },
    { type: 'text', z: 101, x: 362, y: top + 24,
      style: { text: noteLines[1], fill: '#000', font: '12px ' + FONT, align: 'center', verticalAlign: 'middle' } }
  ];
}

const option = {
  animation: false,
  backgroundColor: '#ffffff',
  grid: [
    { left: 56, top: 21, width: 612, height: 209, containLabel: false },
    { left: 56, top: 280, width: 612, height: 210, containLabel: false }
  ],
  xAxis: [
    mainX(0, gainXRange, 7, 'Theta [deg]', 17),
    mainX(1, dffXRange, 9, 'Theta [deg]', 21),
    helperX(0, gainXRange, 36),
    helperX(1, dffXRange, 45)
  ],
  yAxis: [
    mainY(0, gainYRange, 5, 'Gain [dB]', 28),
    mainY(1, dffYRange, 0.5, 'DFF Slope [dB/deg]', 29)
  ],
  series,
  graphic: [
    { type: 'text', z: 100, x: 362, y: 15,
      style: { text: 'H-Plane Co-Polarized Radiation Pattern', fill: '#000', font: 'bold 12px ' + FONT, align: 'center', verticalAlign: 'middle' } },
    { type: 'text', z: 100, x: 362, y: 272,
      style: { text: '{b|H-Plane DFF Slope vs Theta for 25}{s|o}{b| Squint}', align: 'center', verticalAlign: 'middle',
        rich: {
          b: { fontSize: 12, fontWeight: 'bold', fontFamily: FONT, fill: '#000' },
          s: { fontSize: 8, fontWeight: 'bold', fontFamily: FONT, fill: '#000', padding: [0, 0, 7, 0] }
        } } },
    ...noteBox(188),
    ...noteBox(448)
  ]
};

const chart = echarts.init(document.getElementById('chart'), null, { renderer: 'canvas' });
chart.setOption(option);
</script>
</body></html>
